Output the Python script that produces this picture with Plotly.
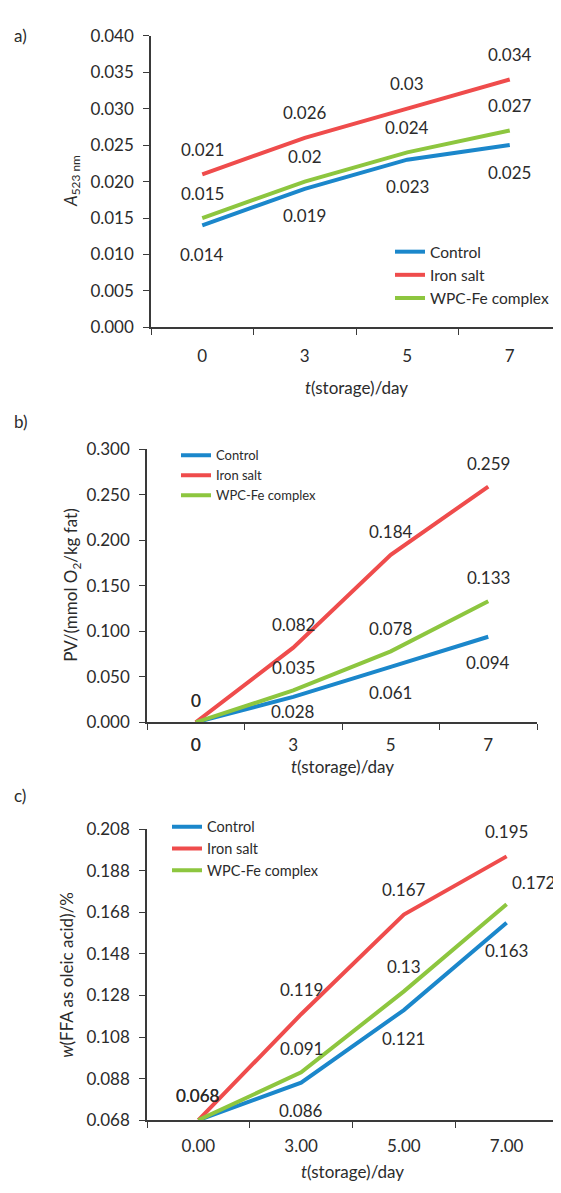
import plotly.graph_objects as go

# ---------------- data ----------------
days_ab = ["0", "3", "5", "7"]
days_c = ["0.00", "3.00", "5.00", "7.00"]
series_names = ["Control", "Iron salt", "WPC-Fe complex"]

a_control = [0.014, 0.019, 0.023, 0.025]
a_iron = [0.021, 0.026, 0.030, 0.034]
a_wpc = [0.015, 0.020, 0.024, 0.027]

b_control = [0, 0.028, 0.061, 0.094]
b_iron = [0, 0.082, 0.184, 0.259]
b_wpc = [0, 0.035, 0.078, 0.133]

c_control = [0.068, 0.086, 0.121, 0.163]
c_iron = [0.068, 0.119, 0.167, 0.195]
c_wpc = [0.068, 0.091, 0.130, 0.172]

# ---------------- style ----------------
W, H = 561, 1193          # browser window
OFF = 8                   # default body margin of the html page
FW, FH = W - OFF, H - OFF  # figure size so it fits the window exactly
FONT = "Lato, Carlito, Calibri, 'Open Sans', sans-serif"
TXT = "#2b2b2b"
AXC = "#3a3a3a"
COLORS = ["#1b87cb", "#ef4c4c", "#8dc63f"]
LW = 4

# label pixel offsets (yshift, + = up); None = label hidden
a_offsets = [[-29, -27, -27, -27], [25, 25, 25, 25], [25, 25, 25, 25]]
b_offsets = [[-22, -15, -26, -26], [22, 23, 23, 23], [22, 23, 23, 24]]
c_offsets = [[None, -28, -28, -28], [25, 25, 25, 25], [25, 24, 25, 22]]
c_xshift = [[0, 0, 0, 0], [0, 0, 0, 0], [0, 0, 0, 27]]


# helpers: page pixel coordinates -> figure paper fractions
def xd(x0, x1):
    return [(x0 - OFF) / FW, (x1 - OFF) / FW]


def yd(y0, y1):
    return [(H - y1) / FH, (H - y0) / FH]


def px_x(x):
    return (x - OFF) / FW


def px_y(y):
    return (H - y) / FH


fig = go.Figure()
annotations = []

panels = [
    dict(xa="x", ya="y", cats=days_ab, data=[a_control, a_iron, a_wpc], off=a_offsets,
         xs=None, legend="legend"),
    dict(xa="x2", ya="y2", cats=days_ab, data=[b_control, b_iron, b_wpc], off=b_offsets,
         xs=None, legend="legend2"),
    dict(xa="x3", ya="y3", cats=days_c, data=[c_control, c_iron, c_wpc], off=c_offsets,
         xs=c_xshift, legend="legend3"),
]

for p in panels:
    for si, (name, vals) in enumerate(zip(series_names, p["data"])):
        fig.add_trace(go.Scatter(
            x=p["cats"], y=vals, mode="lines", name=name,
            line=dict(color=COLORS[si], width=LW),
            xaxis=p["xa"], yaxis=p["ya"], legend=p["legend"],
            hoverinfo="skip",
        ))
        for pi, v in enumerate(vals):
            off = p["off"][si][pi]
            if off is None:
                continue
            xs = p["xs"][si][pi] if p["xs"] else 0
            annotations.append(dict(
                x=pi, y=v, xref=p["xa"], yref=p["ya"], text=f"{v:g}",
                showarrow=False, yshift=off, xshift=xs,
                font=dict(family=FONT, size=17, color=TXT),
                xanchor="center", yanchor="middle",
            ))

common_x = dict(
    type="category", range=[-0.5, 3.5], tickson="boundaries", ticks="outside",
    ticklen=6, tickcolor=AXC, tickwidth=1.3, showline=True, linecolor=AXC,
    linewidth=1.5, showgrid=False, zeroline=False,
    tickfont=dict(family=FONT, size=17, color=TXT),
)
common_y = dict(
    ticks="outside", ticklen=6, tickcolor=AXC, tickwidth=1.3, showline=True,
    linecolor=AXC, linewidth=1.5, showgrid=False, zeroline=False,
    tickformat=".3f", tickfont=dict(family=FONT, size=17, color=TXT),
    ticklabelstandoff=6,
)

fig.update_layout(
    width=FW, height=FH, autosize=False,
    margin=dict(l=0, r=0, t=0, b=0),
    paper_bgcolor="white", plot_bgcolor="white",
    font=dict(family=FONT, color=TXT),
    xaxis=dict(common_x, domain=xd(151, 561), anchor="y", categoryorder="array",
               categoryarray=days_ab, ticklabelstandoff=12),
    yaxis=dict(common_y, domain=yd(25, 322), anchor="x", range=[0, 0.04], dtick=0.005),
    xaxis2=dict(common_x, domain=xd(147, 537), anchor="y2", categoryorder="array",
                categoryarray=days_ab, ticklabelstandoff=7),
    yaxis2=dict(common_y, domain=yd(446, 724), anchor="x2", range=[0, 0.3], dtick=0.05),
    xaxis3=dict(common_x, domain=xd(147, 558), anchor="y3", categoryorder="array",
                categoryarray=days_c, ticklabelstandoff=10),
    yaxis3=dict(common_y, domain=yd(833, 1129), anchor="x3", range=[0.068, 0.208],
                tick0=0.068, dtick=0.02),
    legend=dict(x=px_x(390), y=px_y(228), xanchor="left", yanchor="top",
                bgcolor="rgba(0,0,0,0)", font=dict(family=FONT, size=15.5, color=TXT),
                tracegroupgap=0),
    legend2=dict(x=px_x(176), y=px_y(437), xanchor="left", yanchor="top",
                 bgcolor="rgba(0,0,0,0)", font=dict(family=FONT, size=13, color=TXT),
                 tracegroupgap=0),
    legend3=dict(x=px_x(167), y=px_y(814), xanchor="left", yanchor="top",
                 bgcolor="rgba(0,0,0,0)", font=dict(family=FONT, size=14.5, color=TXT),
                 tracegroupgap=0),
    showlegend=True,
)

# axis titles and panel letters (page pixel positions)
titles = [
    dict(x=px_x(72), y=px_y(173), text="<i>A</i><sub>523 nm</sub>", textangle=-90),
    dict(x=px_x(356), y=px_y(383), text="<i>t</i>(storage)/day", textangle=0),
    dict(x=px_x(72), y=px_y(585), text="PV/(mmol O<sub>2</sub>/kg fat)", textangle=-90),
    dict(x=px_x(342), y=px_y(769), text="<i>t</i>(storage)/day", textangle=0),
    dict(x=px_x(67), y=px_y(981), text="<i>w</i>(FFA as oleic acid)/%", textangle=-90),
    dict(x=px_x(352), y=px_y(1181), text="<i>t</i>(storage)/day", textangle=0),
    dict(x=px_x(20), y=px_y(25), text="a)", textangle=0),
    dict(x=px_x(21), y=px_y(418), text="b)", textangle=0),
    dict(x=px_x(20), y=px_y(798), text="c)", textangle=0),
]
for t in titles:
    annotations.append(dict(
        t, xref="paper", yref="paper", showarrow=False,
        xanchor="center", yanchor="middle",
        font=dict(family=FONT, size=17, color=TXT),
    ))

fig.update_layout(annotations=annotations)

fig.write_html("out.html")
